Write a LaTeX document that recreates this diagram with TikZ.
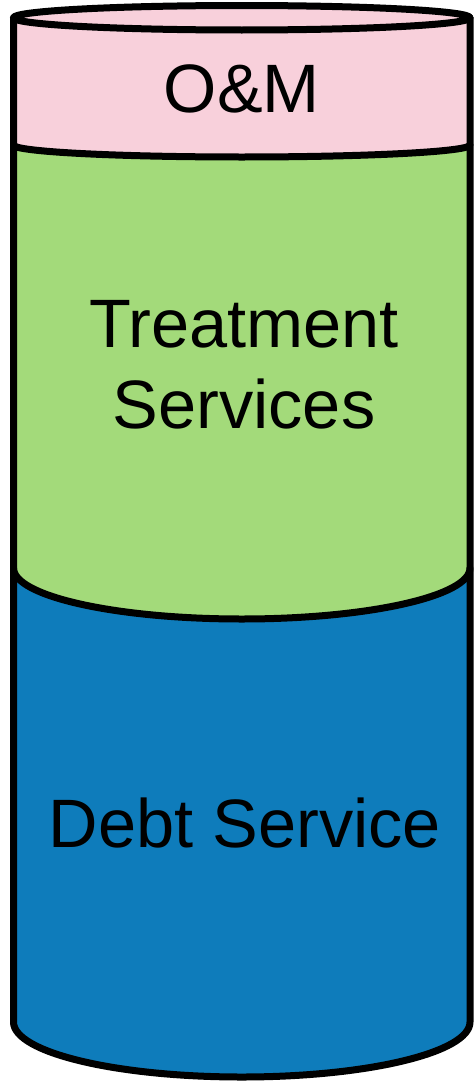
\documentclass[tikz,border=0pt]{standalone}
\usepackage{fontspec}
\setmainfont{Liberation Sans}
\definecolor{ompink}{RGB}{248,208,219}
\definecolor{treatgreen}{RGB}{163,218,122}
\definecolor{debtblue}{RGB}{14,124,187}
\begin{document}
\begin{tikzpicture}[x=1pt,y=1pt,
  outline/.style={draw=black,line width=7pt,line join=round,line cap=round},
  label/.style={inner sep=0pt,text=black,font=\fontsize{68.5}{81}\selectfont,align=center}]
\useasboundingbox (0,0) rectangle (475,-1084);
% fills
\fill[ompink] (13.5,-17.75) arc[start angle=180,end angle=0,x radius=228.25,y radius=12.25]
  -- (470,-145) arc[start angle=0,end angle=-180,x radius=228.25,y radius=12] -- cycle;
\fill[treatgreen] (13.5,-145) arc[start angle=180,end angle=360,x radius=228.25,y radius=12]
  -- (470,-568) arc[start angle=0,end angle=-180,x radius=228.25,y radius=51] -- cycle;
\fill[debtblue] (13.5,-568) arc[start angle=180,end angle=360,x radius=228.25,y radius=51]
  -- (470,-1022) arc[start angle=0,end angle=-180,x radius=228.25,y radius=55] -- cycle;
% outlines
\draw[outline] (241.75,-17.75) ellipse[x radius=228.25,y radius=12.25];
\draw[outline] (13.5,-17.75) -- (13.5,-1022)
  arc[start angle=180,end angle=360,x radius=228.25,y radius=55] -- (470,-17.75);
\draw[outline] (13.5,-145) arc[start angle=180,end angle=360,x radius=228.25,y radius=12];
\draw[outline] (13.5,-568) arc[start angle=180,end angle=360,x radius=228.25,y radius=51];
% labels
\node[label,anchor=base] (om) at (242,-112) {O\&M};
\node[label] (ts) at (244,-364.5) {Treatment\\Services};
\node[label,anchor=base] (ds) at (245,-847) {Debt Service};
\end{tikzpicture}
\end{document}
